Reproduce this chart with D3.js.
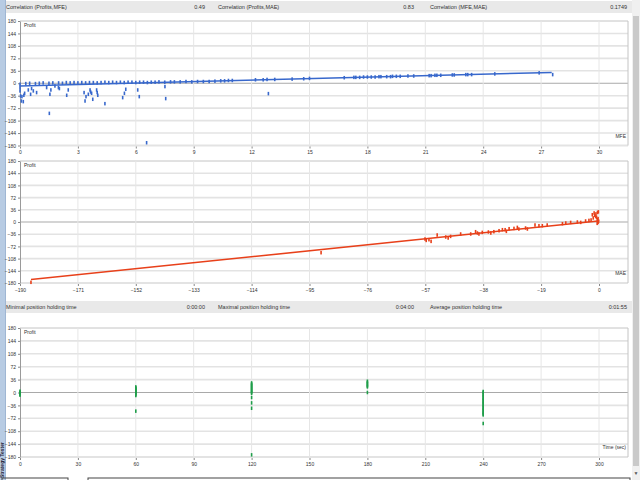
<!DOCTYPE html>
<meta charset="utf-8">
<head>
  <script src="https://d3js.org/d3.v7.min.js"></script>
  <style>
    body { margin: 0; background: #fff; }
    text { font-family: "Liberation Sans", Arial, sans-serif; fill: #333; }
  </style>
</head>
<body>
  <svg id="root"></svg>
  <script>
    // ---- data ----
    const yTicks = [180, 144, 108, 72, 36, 0, -36, -72, -108, -144, -180];
    const mfeTicks = [0, 3, 6, 9, 12, 15, 18, 21, 24, 27, 30];
    const maeTicks = [-190, -171, -152, -133, -114, -95, -76, -57, -38, -19, 0];
    const timeTicks = [0, 30, 60, 90, 120, 150, 180, 210, 240, 270, 300];

    const header1 = [["Correlation (Profits,MFE)", "0.49"], ["Correlation (Profits,MAE)", "0.83"], ["Correlation (MFE,MAE)", "0.1749"]];
    const header2 = [["Minimal position holding time", "0:00:00"], ["Maximal position holding time", "0:04:00"], ["Average position holding time", "0:01:55"]];

    // [MFE, Profit]
    const mfePoints = [
      [0, -2.9], [0, -12.5], [0, -22.2], [0.03, -36.8], [0.07, -51.3], [0.1, -38.7], [0.17, -53.2], [0.2, -34.8],
      [0.24, -29], [0.43, -19.4], [0.55, -31.9], [0.6, -15.4], [0.69, -22.2], [0.86, -27], [1.38, -12.5], [1.52, -87.1],
      [1.55, -31.9], [1.6, -19.4], [1.81, -7.8], [1.99, -12.5], [2.04, -15.4], [2.42, -34.8], [2.5, -19.4], [3.32, -27],
      [3.37, -51.3], [3.42, -38.7], [3.54, -31.9], [3.63, -19.4], [3.66, -25.2], [3.71, -29], [3.77, -46.4], [3.97, -19.4],
      [4.0, -27], [4.03, -34.8], [4.4, -59], [5.32, -41.6], [5.41, -29], [5.48, -17.4], [6.1, -19.4], [6.18, -38.7],
      [6.56, -172], [7.51, -9.6], [7.55, -44.4], [12.87, -30],
      [0.3, -1], [0.5, 0], [0.8, -1], [1.0, 0], [1.2, 1], [1.5, 0], [1.7, 1], [2.0, 1], [2.2, 0], [2.4, 2], [2.6, 1],
      [2.8, 2], [3.0, 1], [3.2, 2], [3.4, 1], [3.6, 2], [3.8, 2], [4.0, 1], [4.2, 2], [4.4, 3], [4.6, 2], [4.8, 3],
      [5.0, 2], [5.2, 3], [5.4, 2], [5.6, 3], [5.8, 3], [6.0, 2], [6.2, 3], [6.4, 3], [6.6, 2], [6.8, 3], [7.0, 3],
      [7.2, 4], [7.5, 3], [7.8, 4], [8.0, 4], [8.3, 4], [8.6, 5], [8.9, 4], [9.2, 5], [9.5, 5], [9.8, 5], [10.1, 6],
      [10.4, 7], [10.6, 7], [10.8, 8], [11.0, 8], [12.2, 10], [12.6, 10], [12.8, 11], [13.2, 11], [14.1, 12], [14.7, 13],
      [15.0, 14], [16.8, 16], [17.3, 17], [17.4, 17], [17.6, 17], [17.8, 18], [18.0, 18], [18.2, 18], [18.4, 18],
      [18.6, 19], [18.7, 19], [19.0, 19], [19.2, 19], [19.3, 20], [19.5, 20], [19.7, 20], [20.1, 21], [20.4, 21],
      [21.2, 22], [21.3, 22], [21.5, 23], [21.6, 23], [21.8, 23], [22.4, 24], [22.5, 24], [23.1, 25], [23.2, 25],
      [23.4, 25], [24.6, 27], [26.9, 30], [27.6, 25]
    ];
    const mfeTrend = [[0, -7.8], [27.55, 31.3]];

    // [MAE, Profit]
    const maePoints = [
      [-186.4, -178], [-91.2, -90.6],
      [-57.1, -50.2], [-56.7, -54.3], [-55.8, -52.2], [-55.1, -57.2], [-53.1, -38.4], [-50.3, -44.3], [-49.5, -47.2],
      [-48.7, -42.5], [-45.4, -35.4], [-42.1, -35.4], [-40.5, -28.6], [-39.9, -32.5], [-39.4, -35.4], [-38.3, -30.7],
      [-36.3, -29.5], [-35.5, -32.5], [-34.5, -28.6], [-32.8, -25.7], [-31.7, -22.7], [-30.8, -22.7], [-30.4, -27.7],
      [-29.5, -19.8], [-27.9, -18.9], [-26.8, -15.9], [-26.3, -20.7], [-24.1, -17.7], [-23.5, -20.7], [-21, -8.9],
      [-19.7, -10.9], [-18.6, -10.9], [-17, -8.9], [-12, -5], [-10.9, -3], [-9.3, -1.2], [-7.1, 0], [-6, -1.2],
      [-4.4, 3], [-3.3, 4.7], [-2.2, 21.5], [-1.6, 26.6], [-1.1, 16.5], [-0.6, 6.8], [-0.3, -1.2],
      [-0.2, 30], [-0.5, 28], [-1.0, 24], [-1.4, 20], [-0.8, 14], [-0.3, 10], [-1.9, 12], [-0.1, 2], [-2.6, 6], [-0.6, -4]
    ];
    const maeTrend = [[-186.4, -170], [-0.3, 3]];

    // [holding time (sec), Profit]
    const timePoints = [
      [0, 3.6], [0, 1], [0, -2], [0, -5], [0, -7.5],
      [60, 15.6], [60, 13], [60, 10], [60, 8], [60, 5], [60, 3], [60, 0], [60, -3], [60, -6], [60, -8.4], [60, -52],
      [120, 26.8], [120, 24], [120, 21], [120, 18], [120, 15], [120, 12], [120, 9], [120, 6], [120, 3], [120, 0], [120, -2],
      [120, -14], [120, -29], [120, -44], [120, -174],
      [180, 31.5], [180, 28], [180, 25], [180, 21], [180, 18], [180, 15.6], [180, 0],
      [240, 2.8], [240, 0], [240, -4], [240, -8], [240, -12], [240, -16], [240, -20], [240, -24], [240, -28], [240, -32],
      [240, -36], [240, -40], [240, -44], [240, -48], [240, -52], [240, -56], [240, -60], [240, -62.5], [240, -86.5]
    ];

    const W = 640, H = 480;
    const svg = d3.select("#root").attr("width", W).attr("height", H);
    svg.append("rect").attr("width", W).attr("height", H).attr("fill", "#fff");

    // left side stripe with the vertical tab caption
    svg.append("rect").attr("x", 0).attr("y", 0).attr("width", 5).attr("height", H).attr("fill", "#b7cbe3");
    svg.append("line").attr("x1", 5.5).attr("x2", 5.5).attr("y1", 0).attr("y2", H).attr("stroke", "#9fb6d3");
    svg.append("text")
      .attr("transform", "translate(4,442) rotate(-90)")
      .attr("text-anchor", "end")
      .style("font-size", "5px")
      .style("font-weight", "bold")
      .style("fill", "#223")
      .text("Strategy Tester");

    // right scrollbar
    svg.append("rect").attr("x", 632).attr("y", 0).attr("width", 8).attr("height", H).attr("fill", "#f0f0f0");
    svg.append("rect").attr("x", 633).attr("y", 16).attr("width", 6).attr("height", 450).attr("fill", "#c9c9c9");
    svg.append("text").attr("x", 636).attr("y", 475).attr("text-anchor", "middle")
      .style("font-size", "5px").style("fill", "#555").text("\u25BC");

    // bottom panel outlines peeking in
    svg.append("rect").attr("x", 2).attr("y", 478).attr("width", 66).attr("height", 10)
      .attr("fill", "none").attr("stroke", "#444");
    svg.append("rect").attr("x", 88).attr("y", 478).attr("width", 542).attr("height", 10)
      .attr("fill", "none").attr("stroke", "#444");

    function drawHeader(items, y0) {
      const g = svg.append("g");
      g.append("rect").attr("x", 6).attr("y", y0).attr("width", 626).attr("height", 12).attr("fill", "#e9e9e9");
      const starts = [6, 218, 430], ends = [205, 414, 627];
      items.forEach((d, i) => {
        g.append("text").attr("x", starts[i]).attr("y", y0 + 8).style("font-size", "5.5px").text(d[0]);
        g.append("text").attr("x", ends[i]).attr("y", y0 + 8).attr("text-anchor", "end")
          .style("font-size", "5.5px").text(d[1]);
      });
    }

    const x0 = 20, x1 = 599, xRight = 628;

    function drawPanel(o) {
      const x = d3.scaleLinear([o.xTicks[0], o.xTicks[o.xTicks.length - 1]], [x0, x1]);
      const y = d3.scaleLinear([-180, 180], [o.bottom, o.top]);
      const g = svg.append("g");

      // horizontal grid
      g.selectAll(".hg").data(yTicks).join("line")
        .attr("x1", x0).attr("x2", xRight)
        .attr("y1", d => y(d)).attr("y2", d => y(d))
        .attr("stroke", d => d === 0 ? "#a9a9a9" : (d === 180 ? "#c4c4c4" : "#e3e3e3"))
        .attr("stroke-width", d => d === -180 ? 2 : (d === 0 || d === 180 ? 1 : 1.6));
      // vertical grid
      g.selectAll(".vg").data(o.xTicks.slice(1)).join("line")
        .attr("x1", d => x(d)).attr("x2", d => x(d))
        .attr("y1", o.top).attr("y2", o.bottom)
        .attr("stroke", "#e6e6e6");
      g.append("line").attr("x1", xRight).attr("x2", xRight).attr("y1", o.top).attr("y2", o.bottom)
        .attr("stroke", "#c4c4c4");

      // axes
      const ax = g.append("g").attr("transform", `translate(0,${o.bottom + 1})`)
        .call(d3.axisBottom(x).tickValues(o.xTicks).tickSize(2).tickPadding(2).tickSizeOuter(0));
      ax.select(".domain").remove();
      ax.selectAll("line").attr("stroke", "#888");
      ax.selectAll("text").style("font-size", "5px").style("font-family", "Liberation Sans").attr("fill", "#333");

      const ay = g.append("g").attr("transform", `translate(${x0},0)`)
        .call(d3.axisLeft(y).tickValues(yTicks).tickSize(2).tickPadding(2).tickSizeOuter(0));
      ay.select(".domain").attr("stroke", "#9a9a9a");
      ay.selectAll("line").attr("stroke", "#888");
      ay.selectAll("text").style("font-size", "5px").style("font-family", "Liberation Sans").attr("fill", "#333");

      g.append("text").attr("x", 24).attr("y", o.top + 6).style("font-size", "5px").text("Profit");
      g.append("text").attr("x", 626).attr("y", o.bottom - 8).attr("text-anchor", "end")
        .style("font-size", "5px").text(o.xLabel);

      // trend line
      if (o.trend) {
        g.append("path").datum(o.trend)
          .attr("fill", "none").attr("stroke", o.color).attr("stroke-width", 1.5)
          .attr("d", d3.line().x(d => x(d[0])).y(d => y(d[1])));
      }
      // points
      g.selectAll(".pt").data(o.points).join("rect")
        .attr("x", d => x(d[0]) - 0.8).attr("y", d => y(d[1]) - 1.75)
        .attr("width", 1.6).attr("height", 3.5)
        .attr("fill", o.color);
    }

    drawHeader(header1, 1);
    drawPanel({ top: 21, bottom: 145.5, xTicks: mfeTicks, xLabel: "MFE", points: mfePoints, trend: mfeTrend, color: "#3868cc" });
    drawPanel({ top: 161, bottom: 283, xTicks: maeTicks, xLabel: "MAE", points: maePoints, trend: maeTrend, color: "#e8401a" });
    drawHeader(header2, 301);
    drawPanel({ top: 328, bottom: 457, xTicks: timeTicks, xLabel: "Time (sec)", points: timePoints, color: "#1f9e4a" });
  </script>
</body>
